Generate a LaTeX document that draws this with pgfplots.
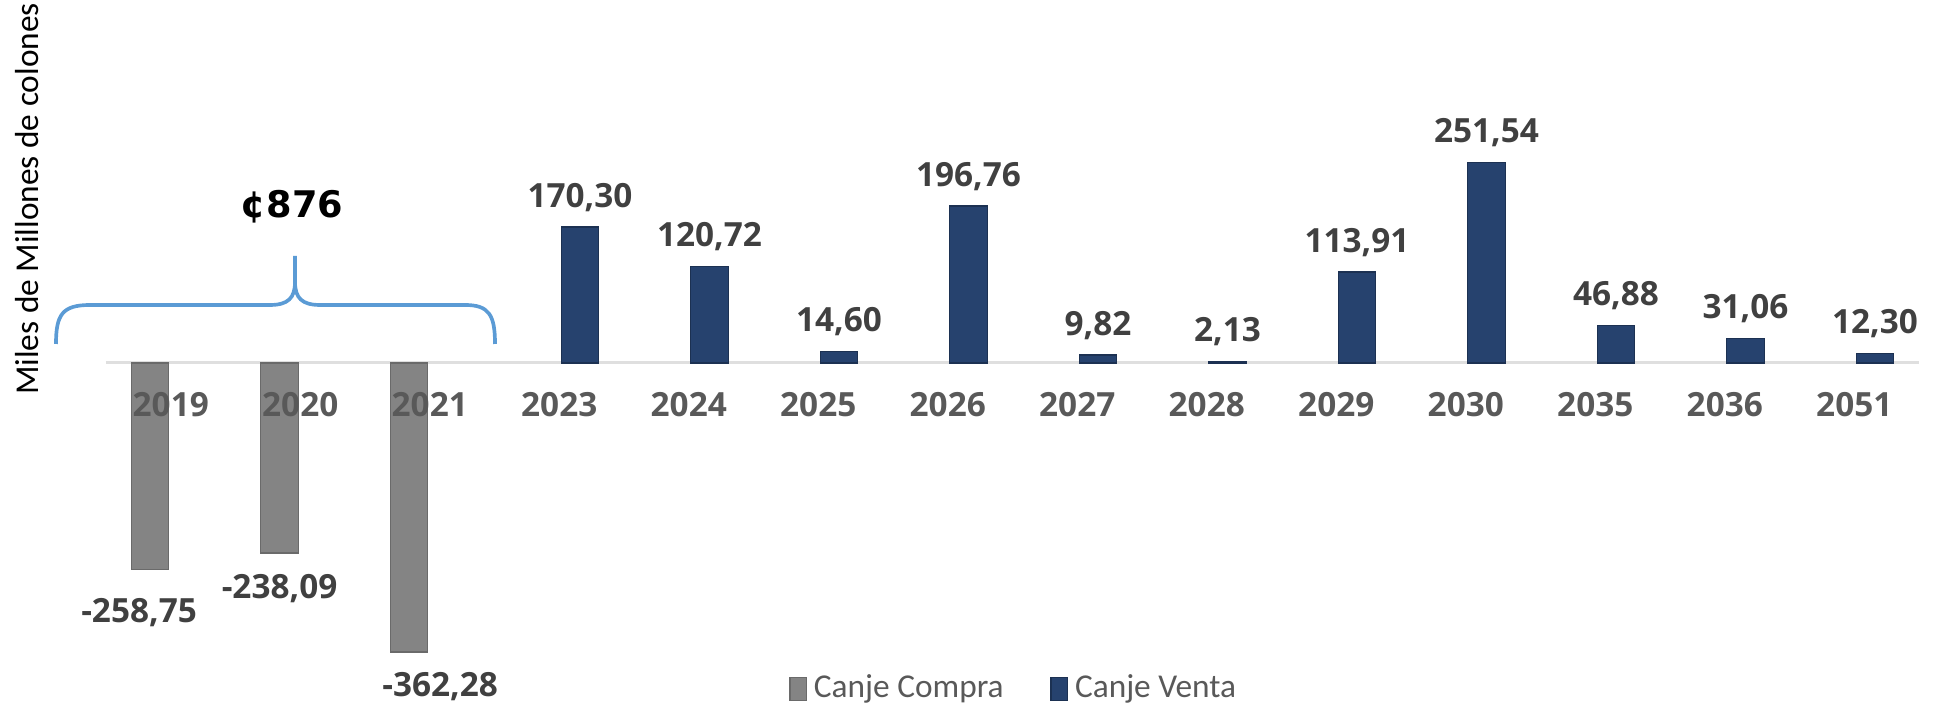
\documentclass[border=0pt]{standalone}
\usepackage{fontspec}
\setmainfont{Carlito}
\newfontfamily\lblfont{Open Sans}
\newfontfamily\bigfont{DejaVu Sans}
\usepackage{pgfplots}
\pgfplotsset{compat=1.18}
\definecolor{compra}{RGB}{132,132,132}
\definecolor{venta}{RGB}{38,66,110}
\definecolor{lblgray}{RGB}{64,64,64}
\definecolor{tickgray}{RGB}{89,89,89}
\definecolor{bracecol}{RGB}{91,155,213}

\begin{document}
\begin{tikzpicture}
\begin{axis}[
  scale only axis, width=582.6pt, height=213.3pt,
  xmin=-1.3185, xmax=13.6776,
  ymin=-436.1, ymax=454.9,
  clip=false, axis on top,
  axis line style={draw=none},
  ytick=\empty,
  xtick={0,...,13},
  xticklabels={2019,2020,2021,2023,2024,2025,2026,2027,2028,2029,2030,2035,2036,2051},
  major tick length=0pt,
  xticklabel style={anchor=center, yshift=91.8pt,
    font=\lblfont\bfseries\fontsize{10}{12}\selectfont, text=tickgray},
  ybar, bar width=0.29,
  point meta=explicit symbolic,
  every node near coord/.append style={font=\lblfont\bfseries\fontsize{10}{12}\selectfont,
    text=lblgray, inner sep=0pt},
  legend style={at={(rel axis cs:0.5232,0.0309)}, anchor=center, draw=none, fill=none,
    legend columns=2, font=\fontsize{10}{12}\selectfont, text=tickgray,
    /tikz/every even column/.append style={column sep=12pt}},
  legend image code/.code={\draw[#1] (0pt,-3.4pt) rectangle (5pt,3.4pt);},
]
% zero line
\draw[gray!25, line width=0.9pt] (axis cs:-0.5,0) -- (axis cs:13.5,0);

\addplot[fill=compra, draw=compra!80!black, bar shift=-0.16,
  nodes near coords,
  visualization depends on={\thisrow{dx} \as \dx},
  visualization depends on={\thisrow{dy} \as \dy},
  nodes near coords style={anchor=north, xshift=\dx pt, yshift=-\dy pt}]
table[x=x, y=y, meta=lbl] {
x y lbl dx dy
0 -258.75 -258,75 -3.3 8.4
1 -238.09 -238,09 0 6.2
2 -362.28 -362,28 9.3 5.8
};
\addlegendentry{Canje Compra}

\addplot[fill=venta, draw=venta!75!black, bar shift=0.16,
  nodes near coords,
  nodes near coords style={anchor=south, yshift=4.5pt}]
table[x=x, y=y, meta=lbl] {
x y lbl
3 170.30 170,30
4 120.72 120,72
5 14.60 14,60
6 196.76 196,76
7 9.82 9,82
8 2.13 2,13
9 113.91 113,91
10 251.54 251,54
11 46.88 46,88
12 31.06 31,06
13 12.30 12,30
};
\addlegendentry{Canje Venta}
\end{axis}

\begin{scope}[shift={(current axis.north west)}, x=0.3pt, y=-0.3pt]
  \node[rotate=90, inner sep=0pt, font=\fontsize{10}{12}\selectfont] at (27,199) {Miles de Millones de colones};
  \node[font=\bigfont\bfseries\fontsize{11}{13}\selectfont] at (292,207) {¢876};
  \draw[bracecol, line width=1.1pt]
    (56,344) .. controls (56,315) and (62,305) .. (90,305) -- (270,305)
    .. controls (288,305) and (295,298) .. (295,282) -- (295,256);
  \draw[bracecol, line width=1.1pt]
    (295,282) .. controls (295,298) and (302,305) .. (320,305) -- (465,305)
    .. controls (489,305) and (495,315) .. (495,344);
\end{scope}
\pgfresetboundingbox
\path[use as bounding box] (current axis.south west) rectangle (current axis.north east);
\end{tikzpicture}
\end{document}
